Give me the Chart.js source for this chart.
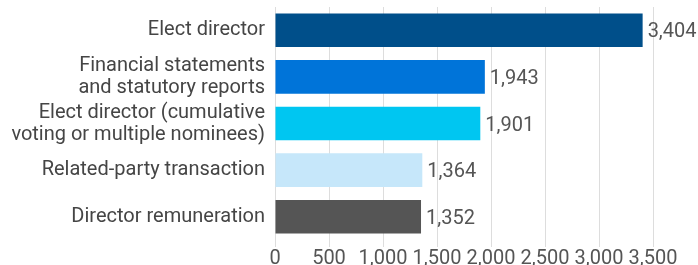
<!DOCTYPE html>
<html>
<head>
<meta charset="utf-8">
<script src="https://cdn.jsdelivr.net/npm/chart.js@4"></script>
<style>
html,body{margin:0;padding:0;background:#fff;}
#wrap{width:698px;height:265px;position:relative;}
</style>
</head>
<body>
<div id="wrap"><canvas id="c" width="698" height="265"></canvas></div>
<script>
const categories = [
  "Elect director",
  ["Financial statements", "and statutory reports"],
  ["Elect director (cumulative", "voting or multiple nominees)"],
  "Related-party transaction",
  "Director remuneration"
];
const values = [3404, 1943, 1901, 1364, 1352];
const barColors = ["#004f8a", "#0074d9", "#00c6f1", "#c6e7fa", "#555555"];
const xTicks = [0, 500, 1000, 1500, 2000, 2500, 3000, 3500];

const valueLabels = {
  id: "valueLabels",
  afterDatasetsDraw(chart) {
    const ctx = chart.ctx;
    const meta = chart.getDatasetMeta(0);
    ctx.save();
    ctx.font = "20px Roboto";
    ctx.fillStyle = "#555555";
    ctx.textAlign = "left";
    ctx.textBaseline = "middle";
    meta.data.forEach((bar, i) => {
      ctx.fillText(values[i].toLocaleString("en-US"), bar.x + 5, bar.y + 2);
    });
    ctx.restore();
  }
};

new Chart(document.getElementById("c"), {
  type: "bar",
  data: {
    labels: categories,
    datasets: [{
      data: values,
      backgroundColor: barColors,
      borderWidth: 0,
      barPercentage: 0.72,
      categoryPercentage: 1.0
    }]
  },
  options: {
    indexAxis: "y",
    responsive: false,
    animation: false,
    layout: { padding: { top: 7, right: 45, left: 0, bottom: 0 } },
    plugins: { legend: { display: false }, tooltip: { enabled: false } },
    scales: {
      x: {
        min: 0,
        max: 3500,
        afterBuildTicks(scale) { scale.ticks = xTicks.map(v => ({ value: v })); },
        afterFit(scale) { scale.height = 25; },
        grid: { color: "#dddddd", lineWidth: 1, drawTicks: true, tickLength: 7 },
        border: { display: false },
        ticks: {
          color: "#555555",
          font: { family: "Roboto", size: 20 },
          padding: 0,
          maxRotation: 0,
          autoSkip: false,
          callback: (v) => Number(v).toLocaleString("en-US")
        }
      },
      y: {
        grid: { display: false },
        border: { display: false },
        afterFit(scale) { scale.width = 275; scale.paddingTop = 0; scale.paddingBottom = 0; },
        ticks: {
          color: "#454545",
          font: { family: "Roboto", size: 20, lineHeight: 1.1 },
          padding: 2,
          autoSkip: false
        }
      }
    }
  },
  plugins: [valueLabels]
});
</script>
</body>
</html>
